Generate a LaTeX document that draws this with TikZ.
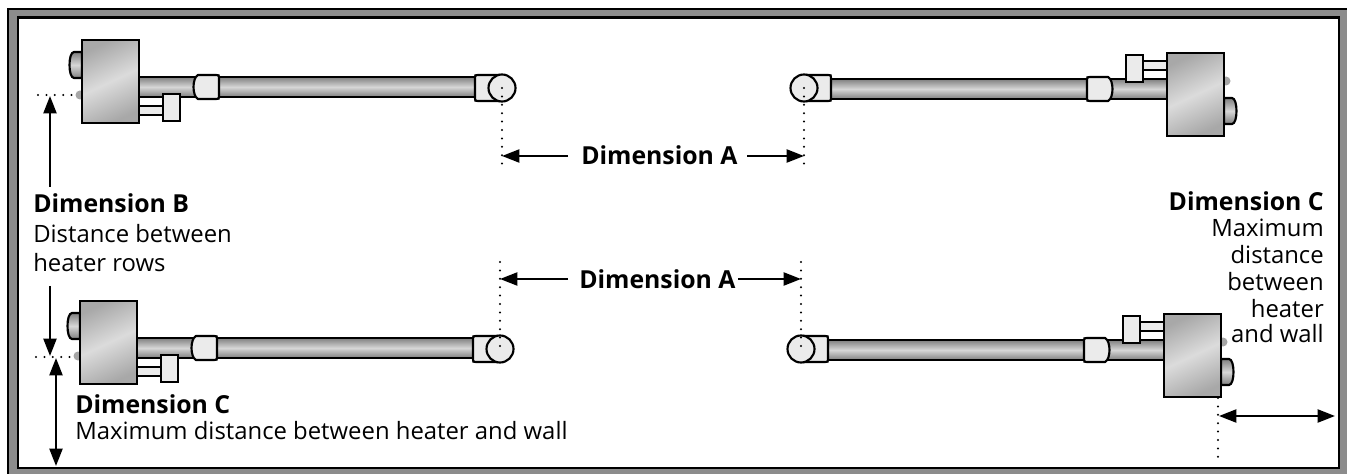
\documentclass[tikz,border=0pt]{standalone}
\usepackage{fontspec}
\setmainfont{Open Sans}
\usetikzlibrary{arrows.meta}
\definecolor{framegray}{gray}{0.55}
\tikzset{
  x=0.75pt,y=-0.75pt,
  ol/.style={draw=black,line width=1.6pt},
  tube/.style={ol,top color=black!50,bottom color=black!50,middle color=black!16},
  lightpart/.style={ol,fill=black!8},
  heatbox/.style={ol,shading=axis,left color=black!34,right color=black!34,middle color=black!14,shading angle=205},
  dots/.style={line width=1.7pt,line cap=round,dash pattern=on 0pt off 6.3pt},
  dim/.style={line width=1.6pt,-{Triangle[length=13pt,width=9.75pt]}},
  dimboth/.style={line width=1.6pt,{Triangle[length=13pt,width=9.75pt]}-{Triangle[length=13pt,width=9.75pt]}},
  lab/.style={inner sep=0pt,anchor=base west,font=\fontsize{17.9pt}{20pt}\selectfont},
  labb/.style={lab,font=\fontsize{18.6pt}{20pt}\selectfont\bfseries},
  labr/.style={lab,anchor=base east},
  labbr/.style={labb,anchor=base east},
}
\newcommand{\heaterunit}[1]{%
  \begin{scope}[#1]
    \fill[black!35] (-2,55) circle (4.5);
    \draw[tube] (0,12) -- (-8,12) .. controls (-14,12) and (-14,38) .. (-8,38) -- (0,38) -- cycle;
    \draw[tube] (57,37) rectangle (395,57);
    \draw[lightpart] (57,66) rectangle (81,75);
    \draw[lightpart] (81,54) rectangle (98,81);
    \draw[lightpart] (116,35) -- (134,35) .. controls (137,35) and (137,35) .. (137,38) -- (137,56) .. controls (137,59) and (137,59) .. (134,59) -- (116,59) .. controls (110,56) and (110,38) .. (116,35) -- cycle;
    \draw[lightpart] (396,35) -- (420,35) -- (420,61) -- (396,61) .. controls (393,61) and (393,61) .. (393,58) -- (393,38) .. controls (393,35) and (393,35) .. (396,35) -- cycle;
    \draw[lightpart] (420,48) circle (13.5);
    \draw[heatbox] (0,0) rectangle (57,83);
  \end{scope}}
\begin{document}
\begin{tikzpicture}
\useasboundingbox (0,0) rectangle (1347,474);
\clip (0,0) rectangle (1347,474);
\fill[white] (0,0) rectangle (1347,474);
% frame
\fill[black] (7,8) rectangle (1360,490);
\fill[framegray] (9,10) rectangle (1360,490);
\fill[black] (17,16) rectangle (1340,469);
\fill[white] (19,19) rectangle (1338,467);
% heaters
\heaterunit{shift={(82,40)}}
\heaterunit{shift={(80,301)}}
\heaterunit{shift={(1224,136)},xscale=-1,yscale=-1}
\heaterunit{shift={(1221,397)},xscale=-1,yscale=-1}
% reference points
\coordinate (tlc) at (502,88);
\coordinate (tlcb) at (502,169);
\coordinate (trc) at (804,88);
\coordinate (trcb) at (804,170);
\coordinate (blct) at (500,262);
\coordinate (blc) at (500,347);
\coordinate (brct) at (801,262);
\coordinate (brc) at (801,348);
\coordinate (dbl) at (38,95);
\coordinate (dbr) at (75,95);
\coordinate (dcl) at (36,357);
\coordinate (dcr) at (73,357);
\coordinate (wallb) at (56,466);
\coordinate (rwall) at (1335,416);
\coordinate (rtick) at (1218,398);
\coordinate (rtickb) at (1218,461);
\coordinate (a1) at (568,156);
\coordinate (a2) at (747,156);
\coordinate (a3) at (568,279);
\coordinate (a4) at (738,279);
\coordinate (tla) at (502,156);
\coordinate (tra) at (804,156);
\coordinate (bla) at (500,279);
\coordinate (bra) at (801,279);
\coordinate (b1) at (50,187);
\coordinate (b1t) at (50,96);
\coordinate (b2) at (50,286);
\coordinate (b2t) at (50,356);
\coordinate (c1) at (56,358);
\coordinate (c2) at (1219,416);
% dotted
\draw[dots] (tlc) -- (tlcb);
\draw[dots] (trc) -- (trcb);
\draw[dots] (blct) -- (blc);
\draw[dots] (brct) -- (brc);
\draw[dots] (dbl) -- (dbr);
\draw[dots] (dcl) -- (dcr);
\draw[dots] (rtick) -- (rtickb);
% labels
\node[labb] (da1) at (581,165) {Dimension A};
\node[labb] (da2) at (579,288) {Dimension A};
\node[labb] (db) at (33,213) {Dimension B};
\node[lab] (db1) at (33,243) {Distance between};
\node[lab] (db2) at (33,272) {heater rows};
\node[labb] (dc) at (75,413) {Dimension C};
\node[lab] (dc1) at (75,439) {Maximum distance between heater and wall};
\node[labbr] (rc) at (1324,211) {Dimension C};
\node[labr] (rc1) at (1324,237) {Maximum};
\node[labr] (rc2) at (1324,264) {distance};
\node[labr] (rc3) at (1324,291) {between};
\node[labr] (rc4) at (1324,317) {heater};
\node[labr] (rc5) at (1324,343) {and wall};
% arrows
\draw[dim] (a1) -- (tla);
\draw[dim] (a2) -- (tra);
\draw[dim] (a3) -- (bla);
\draw[dim] (a4) -- (bra);
\draw[dim] (b1) -- (b1t);
\draw[dim] (b2) -- (b2t);
\draw[dimboth] (c1) -- (wallb);
\draw[dimboth] (c2) -- (rwall);
\end{tikzpicture}
\end{document}
